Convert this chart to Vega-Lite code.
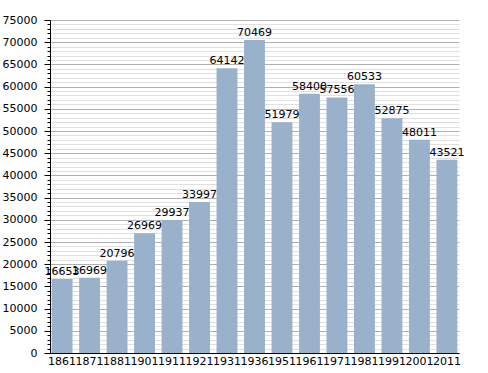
{
  "$schema": "https://vega.github.io/schema/vega-lite/v6.json",
  "autosize": "none",
  "width": 409,
  "height": 333,
  "padding": {"left": 50, "top": 20, "right": 29, "bottom": 20},
  "background": "white",
  "config": {"view": {"stroke": null}, "font": "DejaVu Sans"},
  "data": {"values": [
    {"year": "1861", "pop": 16653},
    {"year": "1871", "pop": 16969},
    {"year": "1881", "pop": 20796},
    {"year": "1901", "pop": 26969},
    {"year": "1911", "pop": 29937},
    {"year": "1921", "pop": 33997},
    {"year": "1931", "pop": 64142},
    {"year": "1936", "pop": 70469},
    {"year": "1951", "pop": 51979},
    {"year": "1961", "pop": 58400},
    {"year": "1971", "pop": 57556},
    {"year": "1981", "pop": 60533},
    {"year": "1991", "pop": 52875},
    {"year": "2001", "pop": 48011},
    {"year": "2011", "pop": 43521}
  ]},
  "encoding": {
    "x": {"field": "year", "type": "ordinal", "sort": null,
      "scale": {"paddingInner": 0.24, "paddingOuter": 0.06},
      "axis": {"title": null, "labelAngle": 0, "ticks": false, "labelFontSize": 11, "labelColor": "black", "domainColor": "black", "labelPadding": 2, "labelFont": "DejaVu Sans"}},
    "y": {"field": "pop", "type": "quantitative",
      "scale": {"domain": [0, 75000], "nice": false},
      "axis": {"title": null,
        "values": [0,1000,2000,3000,4000,5000,6000,7000,8000,9000,10000,11000,12000,13000,14000,15000,16000,17000,18000,19000,20000,21000,22000,23000,24000,25000,26000,27000,28000,29000,30000,31000,32000,33000,34000,35000,36000,37000,38000,39000,40000,41000,42000,43000,44000,45000,46000,47000,48000,49000,50000,51000,52000,53000,54000,55000,56000,57000,58000,59000,60000,61000,62000,63000,64000,65000,66000,67000,68000,69000,70000,71000,72000,73000,74000,75000],
        "format": "d",
        "labelExpr": "datum.value % 5000 === 0 ? datum.label : ''",
        "grid": true,
        "gridColor": {"condition": {"test": "datum.value % 5000 === 0", "value": "#b0b0b0"}, "value": "#e0e0e0"},
        "tickSize": {"condition": {"test": "datum.value % 5000 === 0", "value": 6}, "value": 3},
        "tickColor": "black",
        "domainColor": "black",
        "labelFontSize": 11,
        "labelColor": "black",
        "labelPadding": 7,
        "labelFont": "DejaVu Sans"}}
  },
  "layer": [
    {"mark": {"type": "bar", "color": "#9ab1cb"}},
    {"mark": {"type": "text", "baseline": "bottom", "dy": -2, "fontSize": 11, "color": "black", "font": "DejaVu Sans"},
     "encoding": {"text": {"field": "pop", "type": "quantitative", "format": "d"}}}
  ]
}
